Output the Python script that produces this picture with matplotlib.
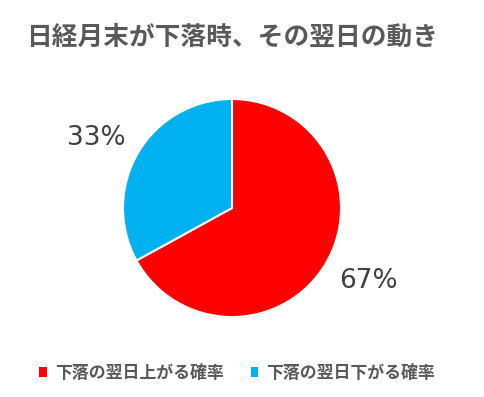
import matplotlib
matplotlib.use('Agg')
import matplotlib.pyplot as plt

plt.rcParams['font.family'] = ['Noto Sans CJK JP', 'DejaVu Sans']

labels = ['下落の翌日上がる確率', '下落の翌日下がる確率']
values = [67, 33]
colors = ['#FF0000', '#00B0F0']

fig = plt.figure(figsize=(4.84, 3.97), dpi=100)
W, H = 484, 397
cx, cy, r = 232, 208, 109
ax = fig.add_axes([(cx - r) / W, (H - cy - r) / H, 2 * r / W, 2 * r / H])

wedges, texts, autotexts = ax.pie(values, colors=colors, startangle=90, counterclock=False,
                                  autopct='%1.0f%%', pctdistance=1.42,
                                  wedgeprops=dict(edgecolor='white', linewidth=1.5))
# label placement tweaks (layout only)
label_pos = [(1.252, -0.67), (-1.243, 0.642)]
for t, p in zip(autotexts, label_pos):
    t.set_position(p)
    t.set_fontsize(19)
    t.set_color('#404040')
    t.set_fontfamily(['DejaVu Sans'])
ax.set_xlim(-1, 1)
ax.set_ylim(-1, 1)
ax.set_aspect('equal')

fig.text(cx / W, 1 - 37 / H, '日経月末が下落時、その翌日の動き', ha='center', va='center',
         fontsize=18.5, fontweight='bold', color='#595959')

leg = fig.legend(wedges, labels, loc='center', bbox_to_anchor=(237 / W, 1 - 373 / H),
                 ncol=2, frameon=False, handlelength=0.45, handleheight=0.45,
                 handletextpad=0.45, columnspacing=1.6,
                 prop={'size': 12.2, 'weight': 'bold'})
for t in leg.get_texts():
    t.set_color('#595959')
for h in leg.legend_handles:
    h.set_edgecolor('none')

fig.savefig('out.png', dpi=100)
